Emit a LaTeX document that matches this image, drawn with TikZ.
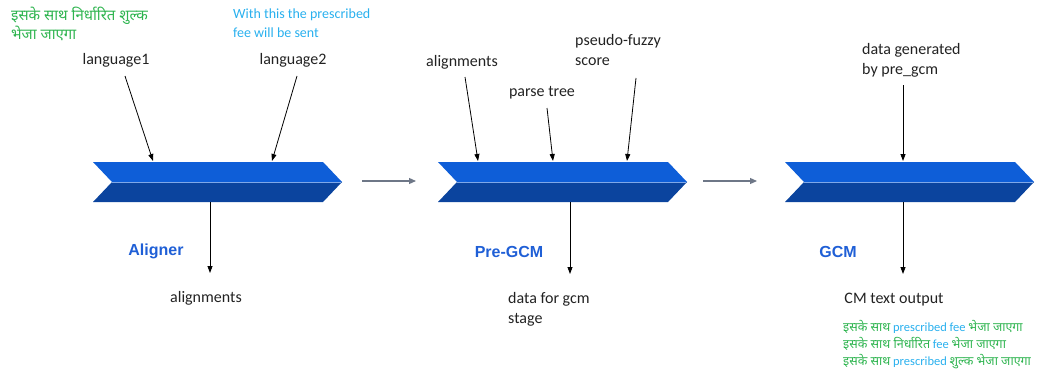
\documentclass[tikz,border=0pt]{standalone}
\usepackage{fontspec}
\setmainfont{Carlito}
\newfontfamily\deva[Script=Devanagari]{Noto Sans}
\newfontfamily\arialb{Liberation Sans}
\usetikzlibrary{arrows.meta}
\definecolor{chevtopc}{HTML}{0E5ED8}
\definecolor{chevbotc}{HTML}{0B449E}
\definecolor{sepc}{HTML}{7FA8E8}
\definecolor{grayarr}{HTML}{6E7787}
\definecolor{hgreen}{HTML}{2EB44F}
\definecolor{hblue}{HTML}{29B0EE}
\definecolor{lblue}{HTML}{1F5FD6}
\definecolor{txt}{HTML}{222222}
\begin{document}
\begin{tikzpicture}[x=1pt,y=-1pt,
  lbl/.style={inner sep=0pt,text=txt,font=\fontsize{16}{20}\selectfont},
  stage/.style={inner sep=0pt,text=lblue,font=\arialb\bfseries\fontsize{16}{20}\selectfont},
  inarr/.style={black,line width=0.8pt,-{Triangle[length=7pt,width=5pt]}},
  flow/.style={grayarr,line width=1.2pt,-{Triangle[length=7pt,width=6pt]}},
  hindi/.style={inner sep=0pt,align=left,font=\deva\fontsize{15}{18.5}\selectfont}]
\useasboundingbox (0,0) rectangle (1048,377);
% chevrons
\foreach \x/\n in {93/A,438/B,785/C}{
  \fill[chevtopc] (\x,162) -- (\x+230,162) -- (\x+249,182) -- (\x+19,182) -- cycle;
  \fill[chevbotc] (\x+19,182) -- (\x+249,182) -- (\x+230,202) -- (\x,202) -- cycle;
  \draw[sepc,line width=1pt] (\x+19,182) -- (\x+248,182);
}
% targets on chevrons
\coordinate (A1) at (153,161);
\coordinate (A2) at (272,161);
\coordinate (Ab) at (210,202);
\coordinate (B1) at (478,161);
\coordinate (B2) at (553,161);
\coordinate (B3) at (627,161);
\coordinate (Bb) at (570,202);
\coordinate (C1) at (903,161);
\coordinate (Cb) at (903,202);
\coordinate (fa) at (362,181);
\coordinate (fb) at (416,181);
\coordinate (fc) at (703,181);
\coordinate (fd) at (757,181);
\coordinate (Ae) at (210,273);
\coordinate (Be) at (570,274);
\coordinate (Ce) at (903,274);
% top texts
\node[hindi,text=hgreen,anchor=north west] (h1) at (11,7) {इसके साथ निर्धारित शुल्क\\भेजा जाएगा};
\node[inner sep=0pt,align=left,anchor=north west,text=hblue,font=\fontsize{14}{19}\selectfont] (e1) at (233,9) {With this the prescribed\\fee will be sent};
\node[lbl] (l1) at (116,60) {language1};
\node[lbl] (l2) at (293,60) {language2};
\node[lbl] (al) at (462,62) {alignments};
\node[lbl] (pt) at (542,93) {parse tree};
\node[lbl,align=left,anchor=north west] (pf) at (575,34) {pseudo-fuzzy\\score};
\node[lbl,align=left,anchor=north west] (dg) at (862,43) {data generated\\by pre\_gcm};
% input arrows
\draw[inarr] (125,76) -- (A1);
\draw[inarr] (297,76) -- (A2);
\draw[inarr] (465,77) -- (B1);
\draw[inarr] (547,108) -- (B2);
\draw[inarr] (636,78) -- (B3);
\draw[inarr] (dg.south -| C1) ++(0,8) -- (C1);
% flow arrows
\draw[flow] (fa) -- (fb);
\draw[flow] (fc) -- (fd);
% stage labels
\node[stage] (sA) at (156,251) {Aligner};
\node[stage] (sB) at (509,252) {Pre-GCM};
\node[stage] (sC) at (838,252) {GCM};
% outputs
\draw[inarr] (Ab) -- (Ae);
\draw[inarr] (Bb) -- (Be);
\draw[inarr] (Cb) -- (Ce);
\node[lbl] (oA) at (206,298) {alignments};
\node[lbl,align=left,anchor=north west] (oB) at (508,292) {data for gcm\\stage};
\node[lbl] (oC) at (894,300) {CM text output};
\node[hindi,anchor=north west,font=\fontsize{12.5}{17}\selectfont] (oH) at (843,320) {%
{\deva\color{hgreen}इसके साथ} {\color{hblue}prescribed fee} {\deva\color{hgreen}भेजा जाएगा}\\
{\deva\color{hgreen}इसके साथ निर्धारित} {\color{hblue}fee} {\deva\color{hgreen}भेजा जाएगा}\\
{\deva\color{hgreen}इसके साथ} {\color{hblue}prescribed} {\deva\color{hgreen}शुल्क भेजा जाएगा}};
\end{tikzpicture}
\end{document}
